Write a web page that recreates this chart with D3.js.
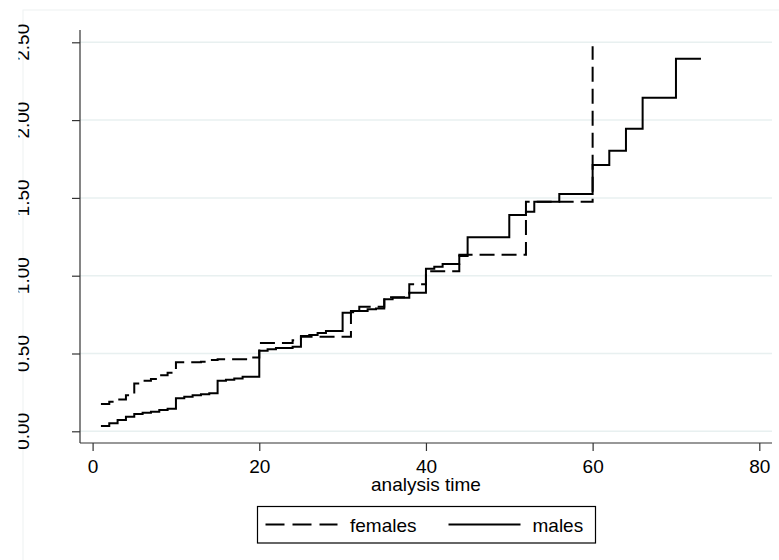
<!DOCTYPE html>
<html>
<head>
<meta charset="utf-8">
<script src="https://cdn.jsdelivr.net/npm/d3@7"></script>
<style>
  body { margin: 0; background: #fff; }
  svg { display: block; }
  svg text { font-family: "Liberation Sans", Arial, sans-serif; }
</style>
</head>
<body>
<div id="chart"></div>
<script>
// cumulative hazard (Nelson-Aalen) steps
const maleTime = [1, 2, 3, 4, 5, 6, 7, 8, 9, 10, 11, 12, 13, 14, 15, 16, 17, 18,
  20, 21, 22, 24, 25, 26, 27, 28, 30, 31, 33, 34, 35, 36, 38, 40, 41, 42, 44, 45,
  50, 52, 53, 56, 60, 62, 64, 66, 70, 73];
const maleHaz = [0.034, 0.051, 0.073, 0.094, 0.111, 0.120, 0.126, 0.137, 0.145,
  0.212, 0.222, 0.231, 0.238, 0.244, 0.325, 0.332, 0.340, 0.351,
  0.518, 0.527, 0.535, 0.544, 0.612, 0.619, 0.632, 0.645, 0.762, 0.773, 0.784,
  0.790, 0.848, 0.859, 0.890, 1.045, 1.058, 1.075, 1.127, 1.247,
  1.390, 1.411, 1.475, 1.525, 1.711, 1.803, 1.945, 2.144, 2.395, 2.395];

const femaleTime = [1, 2, 3, 4, 5, 6, 7, 8, 9, 10, 13, 14, 15, 19, 20, 24, 25,
  31, 32, 35, 38, 40, 44, 52, 60];
const femaleHaz = [0.175, 0.190, 0.205, 0.232, 0.308, 0.325, 0.336, 0.360, 0.377,
  0.443, 0.447, 0.458, 0.463, 0.475, 0.567, 0.585, 0.608,
  0.765, 0.800, 0.862, 0.945, 1.028, 1.135, 1.475, 2.475];

const xTicks = [0, 20, 40, 60, 80];
const yTicks = [0, 0.5, 1, 1.5, 2, 2.5];
const xTitle = "analysis time";
const seriesNames = ["females", "males"];

const width = 779, height = 560;
const fs = 19;

const svg = d3.select("#chart").append("svg")
  .attr("width", width).attr("height", height);

// faint outer frame
svg.append("rect")
  .attr("x", 23).attr("y", 10).attr("width", 900).attr("height", 700)
  .attr("fill", "none").attr("stroke", "#eef2f2").attr("stroke-width", 1);

const x = d3.scaleLinear().domain([0, 80]).range([92.6, 759.3]);
const y = d3.scaleLinear().domain([0, 2.5]).range([431.3, 42.3]);

const plotLeft = 80, plotRight = 772, plotTop = 30, plotBottom = 443;

// grid lines
svg.append("g").selectAll("line")
  .data(yTicks)
  .enter().append("line")
  .attr("x1", plotLeft).attr("x2", plotRight)
  .attr("y1", d => y(d)).attr("y2", d => y(d))
  .attr("stroke", "#e8f0f0").attr("stroke-width", 1.5);

// y axis
svg.append("clipPath").attr("id", "ylabClip")
  .append("rect").attr("x", 18.5).attr("y", 0).attr("width", 100).attr("height", height);

const yAxis = d3.axisLeft(y).tickValues(yTicks).tickSize(8).tickFormat(d3.format(".2f"));
const gy = svg.append("g")
  .attr("transform", "translate(" + plotLeft + ",0)")
  .call(yAxis);
gy.select(".domain").remove();
gy.selectAll(".tick line").attr("stroke", "#333").attr("stroke-width", 1.2);
gy.selectAll(".tick text").remove();

// rotated labels, tops slightly cut like the original
const ylab = svg.append("g").attr("clip-path", "url(#ylabClip)");
ylab.selectAll("text")
  .data(yTicks)
  .enter().append("text")
  .attr("font-size", fs).attr("fill", "#000")
  .attr("text-anchor", "middle")
  .attr("transform", d => "translate(29," + y(d) + ") rotate(-90)")
  .text(d3.format(".2f"));

svg.append("line")
  .attr("x1", plotLeft).attr("x2", plotLeft)
  .attr("y1", plotTop).attr("y2", plotBottom)
  .attr("stroke", "#333").attr("stroke-width", 1.2);

// x axis
const xAxis = d3.axisBottom(x).tickValues(xTicks).tickSize(8).tickPadding(9);
const gx = svg.append("g")
  .attr("transform", "translate(0," + plotBottom + ")")
  .call(xAxis);
gx.attr("font-family", null).attr("font-size", null);
gx.select(".domain").remove();
gx.selectAll(".tick line").attr("stroke", "#333").attr("stroke-width", 1.2);
gx.selectAll(".tick text").attr("font-size", fs).attr("fill", "#000");

svg.append("line")
  .attr("x1", plotLeft).attr("x2", plotRight)
  .attr("y1", plotBottom).attr("y2", plotBottom)
  .attr("stroke", "#333").attr("stroke-width", 1.2);

svg.append("text")
  .attr("x", x(40)).attr("y", 491)
  .attr("text-anchor", "middle").attr("font-size", fs).attr("fill", "#000")
  .text(xTitle);

// step lines
const step = d3.line()
  .x(d => x(d[0]))
  .y(d => y(d[1]))
  .curve(d3.curveStepAfter);

const femaleData = femaleTime.map((t, i) => [t, femaleHaz[i]]);
const maleData = maleTime.map((t, i) => [t, maleHaz[i]]);

svg.append("path")
  .datum(maleData)
  .attr("d", step)
  .attr("fill", "none").attr("stroke", "#000").attr("stroke-width", 2);

svg.append("path")
  .datum(femaleData)
  .attr("d", step)
  .attr("fill", "none").attr("stroke", "#000").attr("stroke-width", 2)
  .attr("stroke-dasharray", "15,7");

// legend
const lg = svg.append("g");
lg.append("rect")
  .attr("x", 257.5).attr("y", 506.5).attr("width", 338).attr("height", 36.5)
  .attr("fill", "#fff").attr("stroke", "#000").attr("stroke-width", 1.2);

lg.append("line")
  .attr("x1", 265.5).attr("x2", 337.5).attr("y1", 524.5).attr("y2", 524.5)
  .attr("stroke", "#000").attr("stroke-width", 2)
  .attr("stroke-dasharray", "19,8");
lg.append("text")
  .attr("x", 350).attr("y", 531.5).attr("font-size", fs).attr("fill", "#000")
  .text(seriesNames[0]);

lg.append("line")
  .attr("x1", 448.5).attr("x2", 520.5).attr("y1", 524.5).attr("y2", 524.5)
  .attr("stroke", "#000").attr("stroke-width", 2);
lg.append("text")
  .attr("x", 532.5).attr("y", 531.5).attr("font-size", fs).attr("fill", "#000")
  .text(seriesNames[1]);
</script>
</body>
</html>
